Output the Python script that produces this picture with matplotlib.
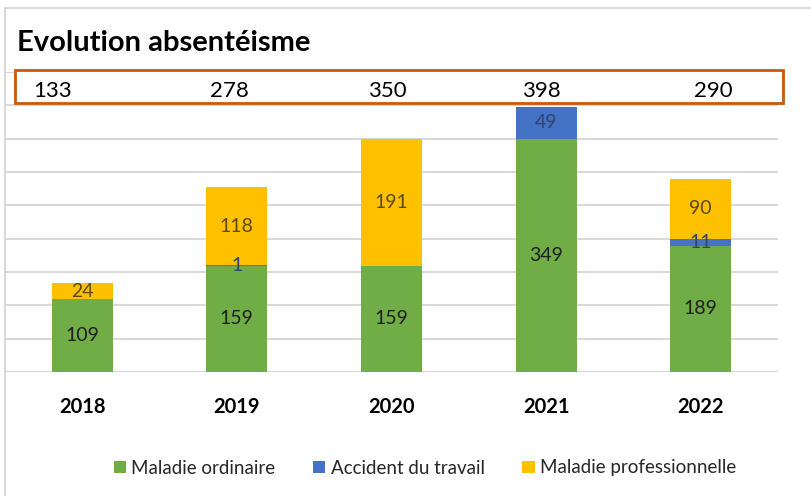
import matplotlib
matplotlib.use('Agg')
import matplotlib.pyplot as plt
from matplotlib.patches import Rectangle, Patch
from matplotlib.lines import Line2D
from matplotlib.transforms import blended_transform_factory

# Data
years = ['2018', '2019', '2020', '2021', '2022']
maladie_ordinaire = [109, 159, 159, 349, 189]
accident_travail = [0, 1, 0, 49, 11]
maladie_pro = [24, 118, 191, 0, 90]
series_names = ['Maladie ordinaire', 'Accident du travail', 'Maladie professionnelle']

colors = ['#70AD47', '#4472C4', '#FFC000']
label_colors = ['#1F1F1F', '#2F4470', '#5A4A10']

plt.rcParams['font.family'] = ['Lato', 'DejaVu Sans']

W, H = 811, 496
fig = plt.figure(figsize=(W / 100, H / 100), dpi=100)
ax = fig.add_axes([5 / W, 1 - 372 / H, 773 / W, 300 / H])

x = list(range(len(years)))
series = [maladie_ordinaire, accident_travail, maladie_pro]
bottoms = [0] * len(years)
for vals, col, lcol, name in zip(series, colors, label_colors, series_names):
    ax.bar(x, vals, width=0.395, bottom=bottoms, color=col, zorder=3, label=name)
    for xi, v, b in zip(x, vals, bottoms):
        if v > 0:
            ax.text(xi, b + v / 2, str(v), ha='center', va='center',
                    fontsize=14, color=lcol, zorder=4)
    bottoms = [b + v for b, v in zip(bottoms, vals)]

ax.set_xlim(-0.5, len(years) - 0.5)
ax.set_ylim(0, 450)
ax.set_yticks(range(0, 451, 50))
ax.yaxis.grid(True, color='#D9D9D9', linewidth=1.5, zorder=0)
ax.set_axisbelow(True)
ax.tick_params(axis='y', left=False, labelleft=False)
ax.tick_params(axis='x', length=0, pad=18)
ax.set_xticks(x)
ax.set_xticklabels(years, fontsize=14.5, fontweight='bold', color='#000000')
for s in ax.spines.values():
    s.set_visible(False)

# outer chart frame (left and top)
fig.add_artist(Line2D([5 / W, 5 / W], [0, 1 - 8 / H], transform=fig.transFigure,
                      color='#D9D9D9', linewidth=1.5))
fig.add_artist(Line2D([5 / W, 1], [1 - 8 / H, 1 - 8 / H], transform=fig.transFigure,
                      color='#D9D9D9', linewidth=1.5))

fig.text(17 / W, 1 - 43 / H, 'Evolution absentéisme', ha='left', va='center',
         fontsize=21, fontweight='bold', color='#000000')

# totals box
fig.add_artist(Rectangle((15 / W, 1 - 103 / H), 768 / W, 33 / H, transform=fig.transFigure,
                         facecolor='white', edgecolor='#C55A11', linewidth=2, zorder=5))
totals = [a + b + c for a, b, c in zip(maladie_ordinaire, accident_travail, maladie_pro)]
offsets = [-0.19, -0.05, -0.03, -0.03, 0.08]
trans = blended_transform_factory(ax.transData, fig.transFigure)
for xi, t, off in zip(x, totals, offsets):
    fig.text(xi + off, 1 - 91 / H, str(t), transform=trans, ha='center', va='center',
             fontsize=16, color='#000000', zorder=6)

handles = [Patch(facecolor=c, label=n) for c, n in zip(colors, series_names)]
fig.legend(handles=handles, loc='center', bbox_to_anchor=(425 / W, 1 - 468 / H),
           ncol=3, frameon=False, fontsize=13.5, handlelength=0.65, handleheight=0.65,
           handletextpad=0.3, columnspacing=2.0, labelcolor='#262626')

fig.savefig('out.png', dpi=100)
